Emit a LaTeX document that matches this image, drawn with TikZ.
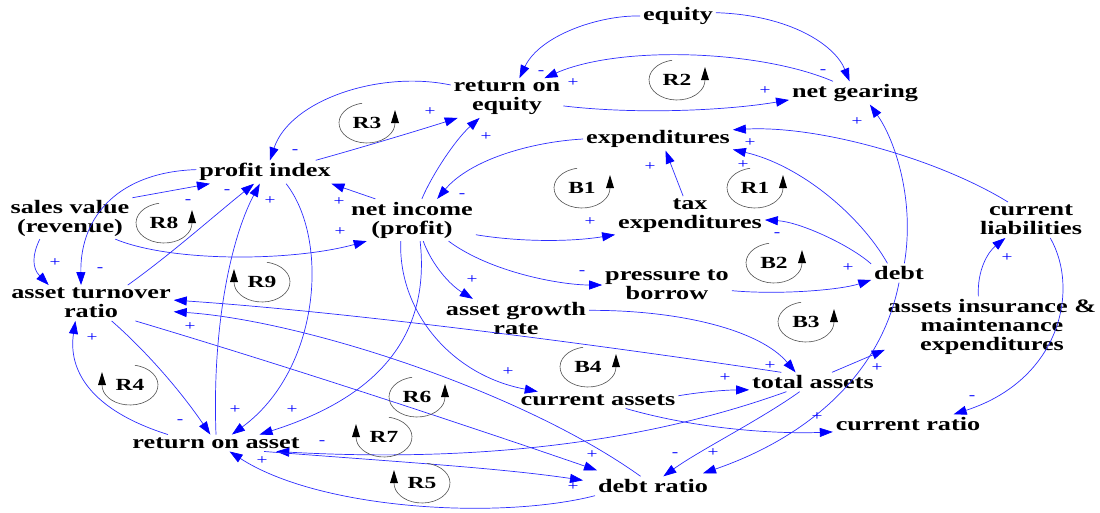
\documentclass[tikz,border=0pt]{standalone}
\usepackage{fontspec}
\setmainfont{Liberation Serif}[FakeStretch=1.38]
\usetikzlibrary{arrows.meta}
\definecolor{lineblue}{RGB}{45,45,255}
\definecolor{headblue}{RGB}{0,0,255}
\definecolor{loopgray}{RGB}{80,80,80}
\tikzset{
  var/.style={font=\fontsize{19}{19}\selectfont\bfseries, align=center, inner sep=1pt, outer sep=2pt},
  lnk/.style={draw=lineblue, line width=0.7pt, -{Triangle[length=13pt,width=9pt,color=headblue]}},
  sgn/.style={text=headblue, font=\fontsize{14}{14}\selectfont, inner sep=0pt},
  looplbl/.style={font=\fontsize{17}{17}\selectfont\bfseries, inner sep=0pt},
  % loop marker, arrow on the right side
  loopR/.pic={
    \draw[loopgray, line width=0.6pt] (100:28pt and 20pt) arc[start angle=100, end angle=360, x radius=28pt, y radius=20pt];
    \fill[black] (24pt,0pt) -- (32pt,0pt) -- (28pt,13pt) -- cycle;
    \node[looplbl] (-t) {#1};
  },
  % loop marker, arrow on the left side
  loopL/.pic={
    \draw[loopgray, line width=0.6pt] (80:28pt and 20pt) arc[start angle=80, end angle=-180, x radius=28pt, y radius=20pt];
    \fill[black] (-32pt,0pt) -- (-24pt,0pt) -- (-28pt,13pt) -- cycle;
    \node[looplbl] (-t) {#1};
  }
}
\begin{document}
\begin{tikzpicture}[x=1pt,y=-1pt]
\useasboundingbox (0,0) rectangle (1100,512);

% variables
\node[var] (equity) at (678,16) {equity};
\node[var] (roe) at (507,98) {return on\\equity};
\node[var] (ng) at (855,93) {net gearing};
\node[var] (exp) at (658,139) {expenditures};
\node[var] (pi) at (265,172) {profit index};
\node[var] (sv) at (70,218) {sales value\\(revenue)};
\node[var] (ni) at (412,220) {net income\\(profit)};
\node[var] (tax) at (690,216) {tax\\expenditures};
\node[var] (cl) at (1031,220) {current\\liabilities};
\node[var] (debt) at (899,273) {debt};
\node[var] (ptb) at (667,285) {pressure to\\borrow};
\node[var] (atr) at (91,303) {asset turnover\\ratio};
\node[var] (agr) at (516,318) {asset growth\\rate};
\node[var] (aim) at (992,327) {assets insurance \&\\maintenance\\expenditures};
\node[var] (ta) at (813,382) {total assets};
\node[var] (ca) at (598,400) {current assets};
\node[var] (cr) at (908,424) {current ratio};
\node[var] (roa) at (216,443) {return on asset};
\node[var] (dr) at (653,486) {debt ratio};

% causal links
\draw[lnk] (equity.180) .. controls (600,15) and (540,35) .. (roe.58);
\draw[lnk] (equity.5) .. controls (790,15) and (835,45) .. (ng.115);
\draw[lnk] (ng.152) .. controls (760,50) and (620,45) .. (roe.28);
\draw[lnk] (roe.-8) .. controls (640,115) and (730,110) .. (ng.186);
\draw[lnk] (roe.167) .. controls (380,70) and (290,100) .. (pi.67);
\draw[lnk] (pi.13) .. controls (360,148) and (420,130) .. (roe.202);
\draw[lnk] (ni.65) .. controls (432,175) and (455,140) .. (roe.216);
\draw[lnk] (ni.150) -- (pi.-10);
\draw[lnk] (exp.west) .. controls (530,142) and (470,160) .. (ni.40);
\draw[lnk] (ni.-13) .. controls (520,242) and (570,242) .. (tax.194);
\draw[lnk] (tax.109) -- (exp.-57);
\draw[lnk] (debt.140) .. controls (860,215) and (800,165) .. (exp.-8);
\draw[lnk] (cl.142) .. controls (940,160) and (820,125) .. (exp.7);
\draw[lnk] (debt.162) .. controls (850,245) and (800,222) .. (tax.-3);
\draw[lnk] (debt.61) .. controls (915,200) and (895,140) .. (ng.-38);
\draw[lnk] (ni.-30) .. controls (490,272) and (560,285) .. (ptb.west);
\draw[lnk] (ptb.-5) .. controls (780,295) and (840,290) .. (debt.194);
\draw[lnk] (ni.-62) .. controls (432,265) and (450,285) .. (agr.156);
\draw[lnk] (agr.6) .. controls (680,310) and (760,330) .. (ta.151);
\draw[lnk] (ni.-118) .. controls (398,310) and (450,375) .. (ca.172);
\draw[lnk] (ni.-69) .. controls (430,330) and (385,395) .. (roa.11);
\draw[lnk] (pi.-29) .. controls (330,240) and (320,370) .. (roa.28);
\draw[lnk] (roa.north) .. controls (212,330) and (230,240) .. (pi.-114);
\draw[lnk] (atr.26) .. controls (170,255) and (215,215) .. (pi.-133);
\draw[lnk] (sv.18) -- (pi.192);
\draw[lnk] (pi.178) .. controls (120,172) and (80,215) .. (atr.119);
\draw[lnk] (sv.215) .. controls (32,255) and (32,268) .. (atr.157);
\draw[lnk] (sv.-25) .. controls (170,262) and (290,262) .. (ni.205);
\draw[lnk] (atr.-41) .. controls (145,350) and (180,390) .. (roa.124);
\draw[lnk] (roa.170) .. controls (90,410) and (68,370) .. (atr.229);
\draw[lnk] (atr.-22) .. controls (300,370) and (480,430) .. ([shift={(2,-6)}]dr.north west);
\draw[lnk] (dr.142) .. controls (520,390) and (300,320) .. (atr.-6);
\draw[lnk] (ta.163) .. controls (600,345) and (350,312) .. (atr.2);
\draw[lnk] (ta.200) .. controls (680,430) and (520,465) .. (roa.-8);
\draw[lnk] (roa.-10) .. controls (400,462) and (500,468) .. ([shift={(-12,4)}]dr.north west);
\draw[lnk] (dr.south west) .. controls (500,520) and (320,510) .. (roa.-32);
\draw[lnk] (ta.216) .. controls (760,420) and (700,450) .. (dr.43);
\draw[lnk] (debt.south) .. controls (880,380) and (800,440) .. ([shift={(-8,-3)}]dr.north east);
\draw[lnk] (ta.27) -- (aim.192);
\draw[lnk] (ca.3) .. controls (700,392) and (725,390) .. (ta.187);
\draw[lnk] (ca.-17) .. controls (700,430) and (780,434) .. (cr.186);
\draw[lnk] (cl.-43) .. controls (1080,290) and (1060,380) .. (cr.12);
\draw[lnk] (aim.114) .. controls (977,270) and (988,252) .. (cl.215);

% polarities
\node[sgn] (s1) at (541,73) {-};
\node[sgn] (s2) at (823,72) {-};
\node[sgn] (s3) at (573,83) {+};
\node[sgn] (s4) at (765,91) {+};
\node[sgn] (s5) at (295,152) {-};
\node[sgn] (s6) at (430,112) {+};
\node[sgn] (s7) at (486,137) {+};
\node[sgn] (s8) at (339,202) {+};
\node[sgn] (s9) at (462,196) {-};
\node[sgn] (s10) at (590,222) {+};
\node[sgn] (s11) at (650,167) {+};
\node[sgn] (s12) at (743,165) {+};
\node[sgn] (s13) at (750,143) {+};
\node[sgn] (s14) at (777,235) {-};
\node[sgn] (s15) at (857,122) {+};
\node[sgn] (s16) at (582,273) {-};
\node[sgn] (s17) at (848,268) {+};
\node[sgn] (s18) at (472,280) {+};
\node[sgn] (s19) at (770,366) {+};
\node[sgn] (s20) at (508,372) {+};
\node[sgn] (s21) at (292,410) {+};
\node[sgn] (s22) at (235,410) {+};
\node[sgn] (s23) at (270,201) {+};
\node[sgn] (s24) at (227,192) {-};
\node[sgn] (s25) at (188,202) {-};
\node[sgn] (s26) at (100,270) {-};
\node[sgn] (s27) at (55,263) {+};
\node[sgn] (s28) at (340,232) {+};
\node[sgn] (s29) at (180,422) {-};
\node[sgn] (s30) at (92,338) {+};
\node[sgn] (s31) at (592,455) {+};
\node[sgn] (s32) at (190,327) {+};
\node[sgn] (s34) at (322,443) {-};
\node[sgn] (s35) at (573,487) {+};
\node[sgn] (s36) at (262,461) {+};
\node[sgn] (s37) at (675,455) {-};
\node[sgn] (s38) at (713,453) {+};
\node[sgn] (s39) at (877,368) {+};
\node[sgn] (s40) at (725,378) {+};
\node[sgn] (s41) at (817,417) {+};
\node[sgn] (s42) at (972,398) {-};
\node[sgn] (s43) at (1007,258) {+};

% loop markers
\pic (lr2) at (677,80) {loopR=R2};
\pic (lr3) at (367,123) {loopR=R3};
\pic (lb1) at (582,188) {loopR=B1};
\pic (lr1) at (755,188) {loopR=R1};
\pic (lr8) at (164,223) {loopR=R8};
\pic (lb2) at (774,263) {loopR=B2};
\pic (lr9) at (262,282) {loopL=R9};
\pic (lb3) at (806,322) {loopR=B3};
\pic (lb4) at (588,367) {loopR=B4};
\pic (lr4) at (130,385) {loopL=R4};
\pic (lr6) at (417,397) {loopR=R6};
\pic (lr7) at (384,437) {loopL=R7};
\pic (lr5) at (422,483) {loopL=R5};
\end{tikzpicture}
\end{document}
